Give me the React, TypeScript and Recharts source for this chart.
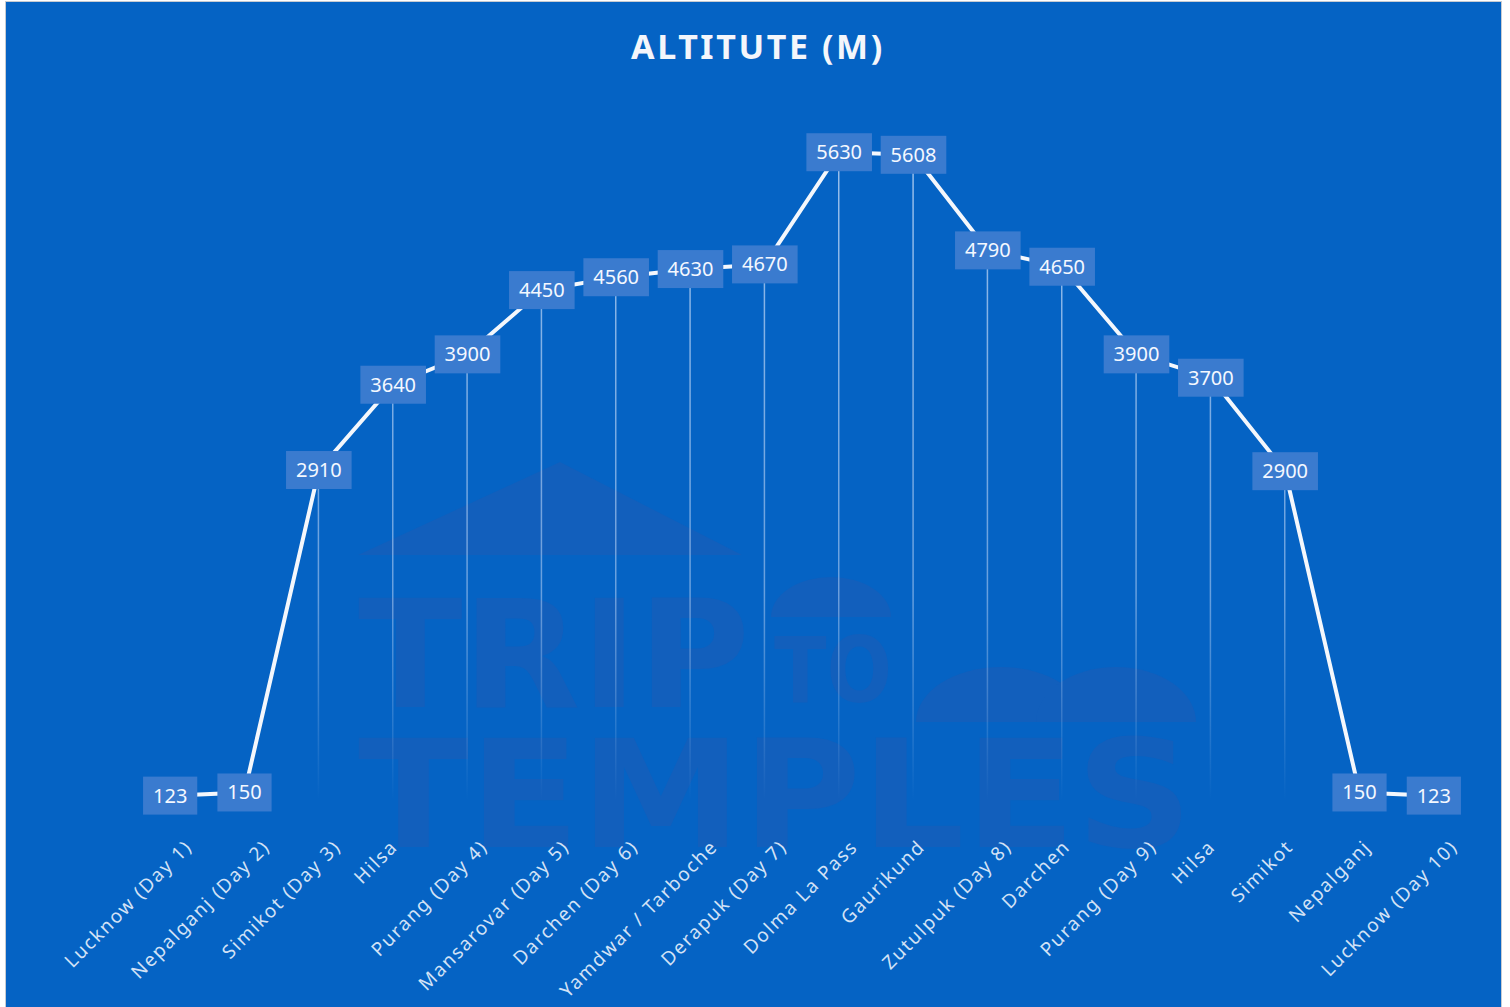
import React from "react";
import { ComposedChart, Line, Bar, XAxis, YAxis, LabelList } from "recharts";

const stops = [
  "Lucknow (Day 1)",
  "Nepalganj (Day 2)",
  "Simikot (Day 3)",
  "Hilsa",
  "Purang (Day 4)",
  "Mansarovar (Day 5)",
  "Darchen (Day 6)",
  "Yamdwar / Tarboche",
  "Derapuk (Day 7)",
  "Dolma La Pass",
  "Gaurikund",
  "Zutulpuk (Day 8)",
  "Darchen",
  "Purang (Day 9)",
  "Hilsa",
  "Simikot",
  "Nepalganj",
  "Lucknow (Day 10)",
];

const altitude = [
  123, 150, 2910, 3640, 3900, 4450, 4560, 4630, 4670, 5630, 5608, 4790, 4650,
  3900, 3700, 2900, 150, 123,
];

const yDomain = [0, 6000];

const data = stops.map((name, i) => ({ key: i, name, alt: altitude[i] }));

const BG = "#0563c4";
const BOX = "#3a7bcf";
const FONT = "'Noto Sans', 'Open Sans', sans-serif";
const WM_FONT = "'DejaVu Sans Condensed', 'DejaVu Sans', sans-serif";

// plot area in chart coords (margins below)
const PLOT_TOP = 107;
const PLOT_BOTTOM = 808;

const ValueBox = (props: any) => {
  const { x, y, value } = props;
  const s = String(value);
  const w = s.length * 11.4 + 20;
  const h = 38;
  return (
    <g>
      <rect x={x - w / 2} y={y - h / 2} width={w} height={h} fill={BOX} />
      <text
        x={x}
        y={y + 7}
        textAnchor="middle"
        fill="#f4f8ff"
        fontSize={20}
        fontFamily={FONT}
      >
        {s}
      </text>
    </g>
  );
};

const AxisTick = (props: any) => {
  const { x, y, payload } = props;
  const label = stops[payload.value] ?? "";
  const approxLen = label.length * 11.6;
  const dx = approxLen * 0.15 - 3;
  return (
    <text
      x={x + dx}
      y={y + 38}
      textAnchor="end"
      transform={`rotate(-45, ${x + dx}, ${y + 38})`}
      fill="#d3e2f6"
      fontSize={19}
      letterSpacing={1.7}
      fontFamily={FONT}
    >
      {label}
    </text>
  );
};

// faint "Trip to Temples" logo behind the plot
function Watermark() {
  const c = "#125fbc";
  return (
    <svg
      width={1495}
      height={1004}
      style={{ position: "absolute", left: 0, top: 0 }}
    >
      <polygon points="352,553 554,460 736,553" fill={c} />
      <path d="M 765 615 A 60 40 0 0 1 885 615 Z" fill={c} />
      <path d="M 910 720 A 85 55 0 0 1 1080 720 Z" fill={c} />
      <path d="M 1030 720 A 80 55 0 0 1 1190 720 Z" fill={c} />
      <text fill={c} fontWeight={700} fontFamily={WM_FONT}>
        <tspan
          x={352}
          y={705}
          fontSize={150}
          textLength={392}
          lengthAdjust="spacingAndGlyphs"
        >
          TRIP
        </tspan>
        <tspan
          x={768}
          y={700}
          fontSize={90}
          textLength={118}
          lengthAdjust="spacingAndGlyphs"
        >
          TO
        </tspan>
        <tspan
          x={352}
          y={845}
          fontSize={150}
          textLength={835}
          lengthAdjust="spacingAndGlyphs"
        >
          TEMPLES
        </tspan>
      </text>
      <text
        x={752}
        y={57}
        textAnchor="middle"
        fill="#f4f6fb"
        fontSize={34}
        fontWeight={700}
        letterSpacing={2.6}
        fontFamily={FONT}
      >
        ALTITUTE (M)
      </text>
    </svg>
  );
}

export default function App() {
  return (
    <div
      style={{
        position: "absolute",
        left: 0,
        top: 0,
        width: 1510,
        height: 1007,
        background: "#ffffff",
        overflow: "hidden",
      }}
    >
      <div
        style={{
          position: "absolute",
          left: 5,
          top: 1,
          width: 1497,
          height: 1006,
          boxSizing: "border-box",
          borderLeft: "1px solid #c7cbd1",
          borderTop: "1px solid #c7cbd1",
          borderRight: "1px solid #c7cbd1",
          background: BG,
        }}
      >
        <Watermark />
        <div style={{ position: "absolute", left: 0, top: 0 }}>
          <ComposedChart
            width={1495}
            height={1005}
            data={data}
            margin={{ top: PLOT_TOP, right: 30, bottom: 0, left: 127 }}
          >
            <defs>
              <linearGradient
                id="dropGrad"
                gradientUnits="userSpaceOnUse"
                x1="0"
                y1={PLOT_TOP}
                x2="0"
                y2={PLOT_BOTTOM - 10}
              >
                <stop offset="0%" stopColor="#b9d3f3" stopOpacity={0.85} />
                <stop offset="70%" stopColor="#a9c8f0" stopOpacity={0.6} />
                <stop offset="100%" stopColor="#a9c8f0" stopOpacity={0} />
              </linearGradient>
            </defs>
            <XAxis
              dataKey="key"
              type="category"
              interval={0}
              axisLine={false}
              tickLine={false}
              tickSize={0}
              tickMargin={0}
              height={197}
              tick={<AxisTick />}
            />
            <YAxis hide domain={yDomain} />
            <Bar
              dataKey="alt"
              barSize={1.5}
              fill="url(#dropGrad)"
              isAnimationActive={false}
            />
            <Line
              type="linear"
              dataKey="alt"
              stroke="#f4f7fc"
              strokeWidth={4}
              dot={false}
              activeDot={false}
              isAnimationActive={false}
            >
              <LabelList dataKey="alt" content={<ValueBox />} />
            </Line>
          </ComposedChart>
        </div>
      </div>
    </div>
  );
}
